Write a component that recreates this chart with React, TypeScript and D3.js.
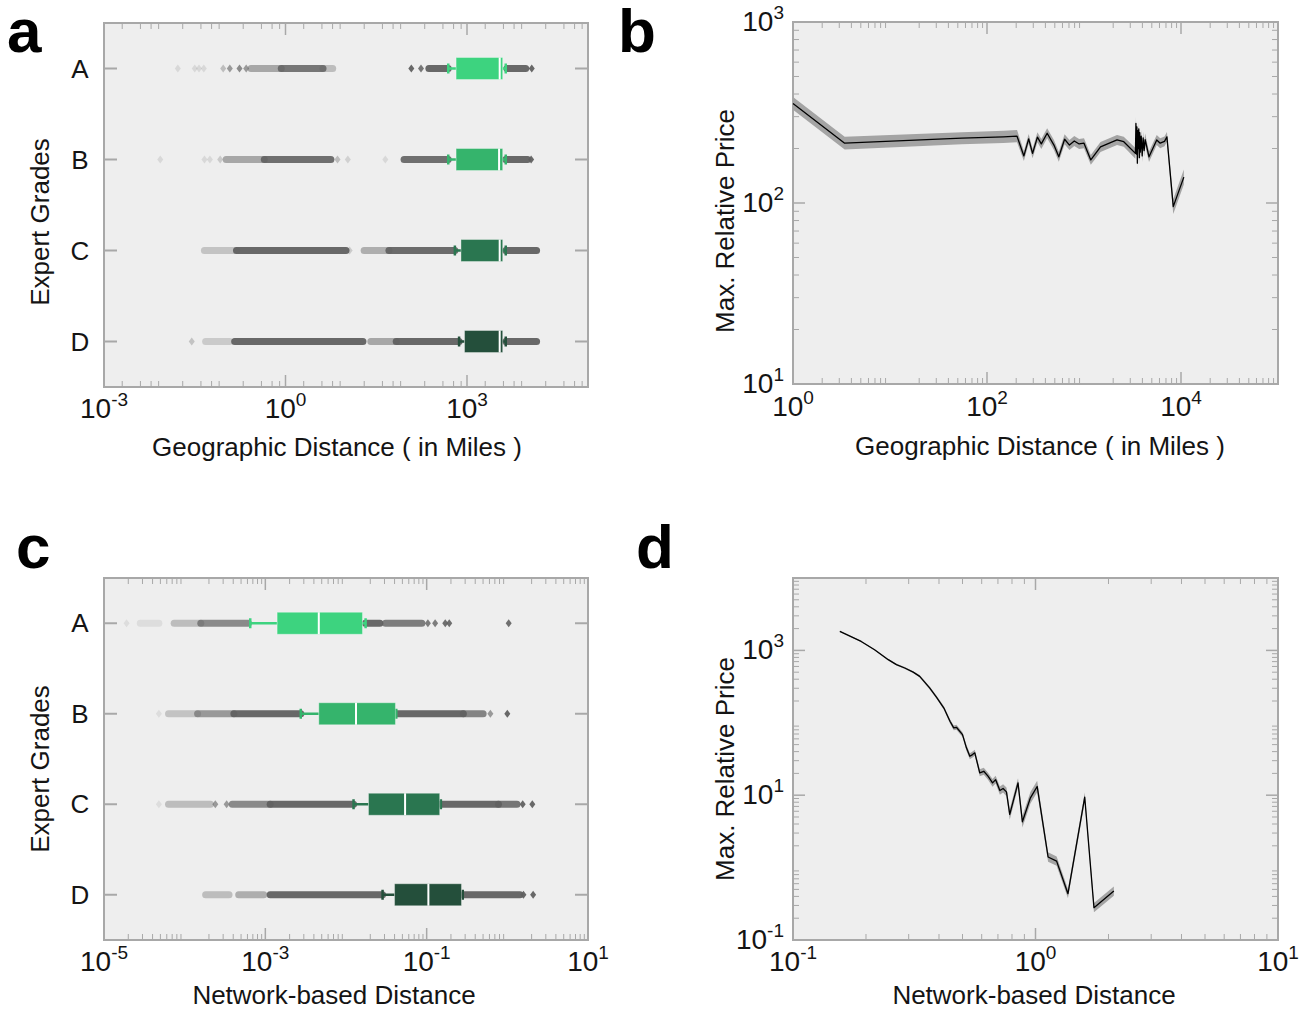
import React from "react";
import * as d3 from "d3";

const FONT = "'Liberation Sans', Arial, Helvetica, sans-serif";
const BG = "#eeeeee";
const FRAME = "#a8a8a8";
const OUT = "#606060";

const grades = ["A", "B", "C", "D"];
const gradeColors = ["#3dd37f", "#35b46c", "#2a7650", "#244f3b"];

// ---- Panel a: geographic distance (miles) box statistics per grade
const geoLow = [490, 490, 630, 740];
const geoQ1 = [660, 660, 795, 910];
const geoMedian = [3470, 3390, 3470, 3470];
const geoQ3 = [3890, 3890, 3890, 3890];
const geoHigh = [4370, 4370, 4370, 4370];
// outlier runs: [log10 from, log10 to, opacity]
const geoOutlierRunsLog10 = [
  [[-0.57, -0.07, 0.5], [-0.07, 0.62, 0.85], [0.62, 0.78, 0.35], [2.37, 2.69, 0.95], [3.66, 3.97, 0.95]],
  [[-0.98, -0.35, 0.5], [-0.35, 0.75, 0.9], [1.96, 2.69, 0.9], [3.64, 4.0, 0.95]],
  [[-1.34, -0.81, 0.3], [-0.81, 1.0, 0.95], [1.3, 1.71, 0.45], [1.71, 2.8, 0.92], [3.64, 4.15, 0.95]],
  [[-1.32, -0.92, 0.25], [-0.84, 1.28, 0.95], [1.41, 1.83, 0.5], [1.83, 2.87, 0.95], [3.64, 4.15, 0.95]],
];
// single outliers: [log10 value, opacity]
const geoOutlierPointsLog10 = [
  [[-1.78, 0.15], [-1.5, 0.15], [-1.43, 0.15], [-1.35, 0.15], [-1.03, 0.35], [-0.92, 0.6], [-0.76, 0.7], [-0.65, 0.6], [2.08, 0.95], [2.24, 0.85], [4.07, 0.95]],
  [[-2.07, 0.15], [-1.34, 0.15], [-1.25, 0.15], [-1.08, 0.25], [0.86, 0.35], [1.03, 0.2], [1.65, 0.15], [4.06, 0.95]],
  [[1.06, 0.25]],
  [[-1.55, 0.3]],
];

// ---- Panel c: network-based distance box statistics per grade
const netLow = [6.5e-4, 2.75e-3, 1.24e-2, 2.84e-2];
const netQ1 = [1.4e-3, 4.6e-3, 1.9e-2, 4.0e-2];
const netMedian = [4.6e-3, 1.33e-2, 5.4e-2, 0.105];
const netQ3 = [1.6e-2, 4.1e-2, 0.145, 0.27];
const netHigh = [1.75e-2, 4.2e-2, 0.15, 0.28];
const netOutlierRunsLog10 = [
  [[-4.55, -4.32, 0.12], [-4.13, -3.8, 0.35], [-3.8, -3.21, 0.7], [-1.76, -1.58, 0.95], [-1.51, -1.06, 0.8]],
  [[-4.2, -3.84, 0.3], [-3.84, -3.39, 0.6], [-3.39, -2.56, 0.95], [-1.38, -0.545, 0.95], [-0.545, -0.3, 0.75]],
  [[-4.2, -3.68, 0.35], [-3.41, -2.94, 0.7], [-2.94, -1.906, 0.95], [-0.825, -0.11, 0.95], [-0.11, 0.12, 0.85]],
  [[-3.74, -3.45, 0.35], [-3.33, -3.02, 0.45], [-2.94, -1.547, 0.95], [-0.55, 0.157, 0.95]],
];
const netOutlierPointsLog10 = [
  [[-4.72, 0.12], [-0.985, 0.8], [-0.895, 0.8], [-0.77, 0.9], [-0.72, 0.9], [0.017, 0.9]],
  [[-4.32, 0.12], [-0.21, 0.6], [0.0, 0.95]],
  [[-4.32, 0.12], [-3.62, 0.6], [-3.48, 0.6], [0.19, 0.95], [0.31, 0.95]],
  [[0.2, 0.95], [0.32, 0.95]],
];

// ---- Panel b: max relative price vs geographic distance
const geoDist = [1, 3.41, 55, 148, 204, 240, 269, 295, 331, 363, 417, 490, 550, 631, 708, 794, 891, 1000, 1175, 1480, 2190, 2570, 3390,
  3430, 3470, 3510, 3550, 3590, 3630, 3670, 3720, 3760, 3800, 3890, 3980, 4070, 4170, 4270,
  4680, 5620, 6100, 6760, 7160, 8320, 10700];
const geoPrice = [355, 214, 228, 232, 234, 182, 226, 188, 231, 212, 243, 209, 180, 225, 209, 220, 212, 214, 173, 204, 223, 218, 188,
  275, 186, 263, 166, 251, 200, 257, 178, 245, 191, 234, 182, 229, 195, 224,
  180, 223, 214, 219, 232, 95.5, 139];
const geoBand = [1.085, 1.085, 1.08, 1.08, 1.08, 1.065, 1.065, 1.065, 1.065, 1.065, 1.065, 1.065, 1.065, 1.065, 1.065, 1.065, 1.065, 1.065, 1.065, 1.065, 1.065, 1.065, 1.07,
  1.09, 1.09, 1.09, 1.09, 1.09, 1.09, 1.09, 1.09, 1.09, 1.09, 1.08, 1.08, 1.08, 1.08, 1.08,
  1.07, 1.065, 1.065, 1.065, 1.065, 1.1, 1.1];

// ---- Panel d: max relative price vs network-based distance
const netDist = [0.156, 0.191, 0.217, 0.247, 0.267, 0.289, 0.313, 0.333, 0.366, 0.391, 0.419, 0.444, 0.46, 0.472, 0.5, 0.519, 0.536, 0.55, 0.562,
  0.589, 0.612, 0.637, 0.665, 0.685, 0.713, 0.735, 0.759, 0.783, 0.847, 0.883, 0.953, 1.016, 1.127, 1.222, 1.361, 1.596, 1.742, 2.104];
const netPrice = [1830, 1330, 1020, 745, 635, 571, 501, 438, 303, 225, 160, 105, 85.1, 86.7, 68.7, 45.1, 34.5, 36.4, 38.5,
  20.4, 21.4, 18.3, 14.8, 16.4, 11.6, 12.4, 11.1, 5.42, 14.8, 4.3, 9.2, 13.2, 1.4, 1.23, 0.436, 9.38, 0.28, 0.474];
const netBand = [1.02, 1.02, 1.02, 1.03, 1.03, 1.03, 1.03, 1.04, 1.05, 1.05, 1.06, 1.07, 1.08, 1.08, 1.08, 1.1, 1.1, 1.1, 1.1,
  1.12, 1.12, 1.12, 1.13, 1.13, 1.14, 1.14, 1.15, 1.18, 1.16, 1.2, 1.2, 1.2, 1.16, 1.16, 1.16, 1.16, 1.16, 1.16];

// tick labels (exponents)
const geoBoxTickExps = [-3, 0, 3];
const geoLineTickExps = [0, 2, 4];
const geoPriceTickExps = [1, 2, 3];
const netBoxTickExps = [-5, -3, -1, 1];
const netLineTickExps = [-1, 0, 1];
const netPriceTickExps = [-1, 1, 3];

const PA = { x0: 104, x1: 588, y0: 23, y1: 387 };
const PB = { x0: 793, x1: 1278, y0: 22, y1: 384 };
const PC = { x0: 104, x1: 588, y0: 578, y1: 940 };
const PD = { x0: 793, x1: 1278, y0: 578, y1: 940 };

function minorTicks(lo: number, hi: number, subs: number[]) {
  const out: number[] = [];
  for (let k = lo; k < hi; k++) for (const s of subs) out.push(s * Math.pow(10, k));
  return out;
}

function Pow({ x, y, exp, anchor }: any) {
  return (
    <text x={x} y={y} textAnchor={anchor} fontFamily={FONT} fontSize={28} fill="#141414">
      10<tspan dy={-12} fontSize={19}>{String(exp)}</tspan>
    </text>
  );
}

function Frame({ P }: any) {
  return <rect x={P.x0} y={P.y0} width={P.x1 - P.x0} height={P.y1 - P.y0} fill={BG} stroke={FRAME} strokeWidth={2} />;
}

function XTicks({ P, sx, majors, minors, labelY }: any) {
  return (
    <g>
      {minors.map((v: number, i: number) => {
        const x = sx(v);
        if (x <= P.x0 + 1 || x >= P.x1 - 1) return null;
        return (
          <g key={"m" + i} stroke={FRAME} strokeWidth={1}>
            <line x1={x} x2={x} y1={P.y0} y2={P.y0 + 6} />
            <line x1={x} x2={x} y1={P.y1} y2={P.y1 - 6} />
          </g>
        );
      })}
      {majors.map((e: number, i: number) => {
        const x = sx(Math.pow(10, e));
        return (
          <g key={"M" + i}>
            <line x1={x} x2={x} y1={P.y0} y2={P.y0 + 12} stroke={FRAME} strokeWidth={1.5} />
            <line x1={x} x2={x} y1={P.y1} y2={P.y1 - 12} stroke={FRAME} strokeWidth={1.5} />
            <Pow x={x} y={labelY} exp={e} anchor="middle" />
          </g>
        );
      })}
    </g>
  );
}

function YTicks({ P, sy, majors, minors, labelX }: any) {
  return (
    <g>
      {minors.map((v: number, i: number) => {
        const y = sy(v);
        if (y <= P.y0 + 1 || y >= P.y1 - 1) return null;
        return (
          <g key={"m" + i} stroke={FRAME} strokeWidth={1}>
            <line x1={P.x0} x2={P.x0 + 6} y1={y} y2={y} />
            <line x1={P.x1} x2={P.x1 - 6} y1={y} y2={y} />
          </g>
        );
      })}
      {majors.map((e: number, i: number) => {
        const y = sy(Math.pow(10, e));
        return (
          <g key={"M" + i}>
            <line x1={P.x0} x2={P.x0 + 12} y1={y} y2={y} stroke={FRAME} strokeWidth={1.5} />
            <line x1={P.x1} x2={P.x1 - 12} y1={y} y2={y} stroke={FRAME} strokeWidth={1.5} />
            <Pow x={labelX} y={y + 9} exp={e} anchor="end" />
          </g>
        );
      })}
    </g>
  );
}

function BoxPanel({ P, domain, low, q1, med, q3, high, runs, points, majors, minors, labelY }: any) {
  const sx = d3.scaleLog().domain(domain).range([P.x0, P.x1]);
  const sy = d3.scaleBand().domain(grades).range([P.y0, P.y1]);
  const bh = 22;
  return (
    <g>
      <Frame P={P} />
      <XTicks P={P} sx={sx} majors={majors} minors={minors} labelY={labelY} />
      {grades.map((g, i) => {
        const cy = (sy(g) as number) + sy.bandwidth() / 2;
        const col = gradeColors[i];
        return (
          <g key={g}>
            <line x1={P.x0} x2={P.x0 + 13} y1={cy} y2={cy} stroke={FRAME} strokeWidth={2} />
            <line x1={P.x1} x2={P.x1 - 13} y1={cy} y2={cy} stroke={FRAME} strokeWidth={2} />
            <text x={80} y={cy + 9} textAnchor="middle" fontFamily={FONT} fontSize={26} fill="#141414">{g}</text>
            {runs[i].map((r: number[], j: number) => (
              <line key={"r" + j} x1={sx(Math.pow(10, r[0]))} x2={sx(Math.pow(10, r[1]))} y1={cy} y2={cy}
                stroke={OUT} strokeOpacity={r[2]} strokeWidth={7} strokeLinecap="round" />
            ))}
            {points[i].map((p: number[], j: number) => {
              const x = sx(Math.pow(10, p[0]));
              return <path key={"p" + j} d={`M${x},${cy - 4}L${x + 3},${cy}L${x},${cy + 4}L${x - 3},${cy}Z`} fill={OUT} fillOpacity={p[1]} />;
            })}
            <line x1={sx(low[i])} x2={sx(q1[i])} y1={cy} y2={cy} stroke={col} strokeWidth={2.5} />
            <line x1={sx(q3[i])} x2={sx(high[i])} y1={cy} y2={cy} stroke={col} strokeWidth={2.5} />
            <line x1={sx(low[i])} x2={sx(low[i])} y1={cy - 5} y2={cy + 5} stroke={col} strokeWidth={2.5} />
            <line x1={sx(high[i])} x2={sx(high[i])} y1={cy - 5} y2={cy + 5} stroke={col} strokeWidth={2.5} />
            <rect x={sx(q1[i])} y={cy - bh / 2} width={sx(q3[i]) - sx(q1[i])} height={bh} fill={col}
              stroke="#ffffff" strokeOpacity={0.35} strokeWidth={1} />
            <line x1={sx(med[i])} x2={sx(med[i])} y1={cy - bh / 2} y2={cy + bh / 2} stroke="#ffffff" strokeWidth={2} />
          </g>
        );
      })}
    </g>
  );
}

function LinePanel({ P, xdomain, ydomain, xs, ys, band, xMaj, xMin, yMaj, yMin, labelY, labelX }: any) {
  const sx = d3.scaleLog().domain(xdomain).range([P.x0, P.x1]);
  const sy = d3.scaleLog().domain(ydomain).range([P.y1, P.y0]);
  const idx = xs.map((_: number, i: number) => i);
  const area = d3.area<number>().x((i) => sx(xs[i])).y0((i) => sy(ys[i] / band[i])).y1((i) => sy(ys[i] * band[i]));
  const line = d3.line<number>().x((i) => sx(xs[i])).y((i) => sy(ys[i]));
  return (
    <g>
      <Frame P={P} />
      <XTicks P={P} sx={sx} majors={xMaj} minors={xMin} labelY={labelY} />
      <YTicks P={P} sy={sy} majors={yMaj} minors={yMin} labelX={labelX} />
      <path d={area(idx) as string} fill="#a4a4a4" />
      <path d={line(idx) as string} fill="none" stroke="#000" strokeWidth={1.3} strokeLinejoin="round" />
    </g>
  );
}

export default function App() {
  return (
    <svg width={1311} height={1014} style={{ position: "absolute", left: 0, top: 0, background: "#fff" }}>
      <rect width={1311} height={1014} fill="#fff" />
      <BoxPanel P={PA} domain={[1e-3, 1e5]} low={geoLow} q1={geoQ1} med={geoMedian} q3={geoQ3} high={geoHigh}
        runs={geoOutlierRunsLog10} points={geoOutlierPointsLog10} majors={geoBoxTickExps}
        minors={minorTicks(-3, 5, [2, 4, 6, 8])} labelY={418} />
      <BoxPanel P={PC} domain={[1e-5, 1e1]} low={netLow} q1={netQ1} med={netMedian} q3={netQ3} high={netHigh}
        runs={netOutlierRunsLog10} points={netOutlierPointsLog10} majors={netBoxTickExps}
        minors={minorTicks(-5, 1, [2, 3, 4, 5, 6, 7, 8, 9])} labelY={971} />
      <LinePanel P={PB} xdomain={[1, 1e5]} ydomain={[10, 1000]} xs={geoDist} ys={geoPrice} band={geoBand}
        xMaj={geoLineTickExps} xMin={minorTicks(0, 5, [2, 3, 4, 5, 6, 7, 8, 9])}
        yMaj={geoPriceTickExps} yMin={minorTicks(1, 3, [2, 3, 4, 5, 6, 7, 8, 9])} labelY={416} labelX={784} />
      <LinePanel P={PD} xdomain={[0.1, 10]} ydomain={[0.1, 1e4]} xs={netDist} ys={netPrice} band={netBand}
        xMaj={netLineTickExps} xMin={minorTicks(-1, 1, [2, 3, 4, 5, 6, 7, 8, 9])}
        yMaj={netPriceTickExps} yMin={minorTicks(-1, 4, [2, 3, 4, 5, 6, 7, 8, 9])} labelY={971} labelX={784} />

      {/* axis titles */}
      <g fontFamily={FONT} fontSize={26} fill="#141414">
        <text x={337} y={456} textAnchor="middle">Geographic Distance ( in Miles )</text>
        <text x={1040} y={455} textAnchor="middle">Geographic Distance ( in Miles )</text>
        <text x={334} y={1004} textAnchor="middle">Network-based Distance</text>
        <text x={1034} y={1004} textAnchor="middle">Network-based Distance</text>
        <text transform="translate(49,222) rotate(-90)" textAnchor="middle">Expert Grades</text>
        <text transform="translate(49,769) rotate(-90)" textAnchor="middle">Expert Grades</text>
        <text transform="translate(734,221) rotate(-90)" textAnchor="middle">Max. Relative Price</text>
        <text transform="translate(734,769) rotate(-90)" textAnchor="middle">Max. Relative Price</text>
      </g>
      {/* panel letters */}
      <g fontFamily={FONT} fontSize={62} fontWeight="bold" fill="#000">
        <text x={7} y={52}>a</text>
        <text x={618} y={52}>b</text>
        <text x={16} y={568}>c</text>
        <text x={636} y={568}>d</text>
      </g>
    </svg>
  );
}
